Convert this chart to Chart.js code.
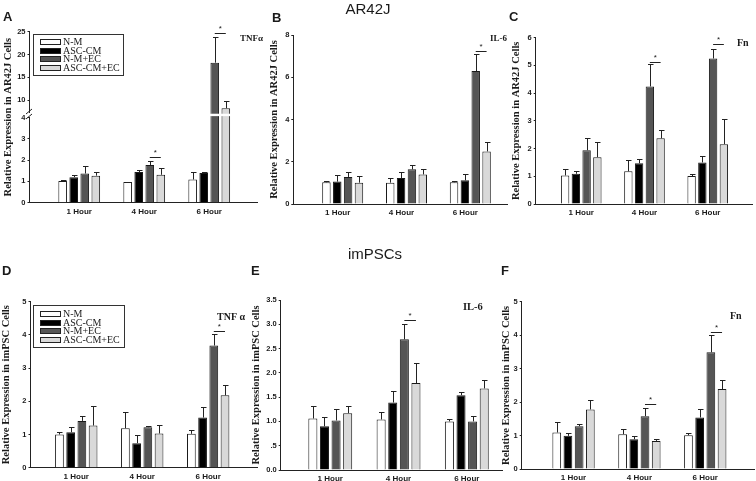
<!DOCTYPE html>
<html><head><meta charset="utf-8">
<script src="https://cdn.jsdelivr.net/npm/chart.js@4.4.0/dist/chart.umd.min.js"></script>
<style>
html,body{margin:0;padding:0;background:#fff;}
#wrap{position:relative;width:756px;height:481px;overflow:hidden;background:#fff;}
#wrap canvas{position:absolute;left:0;top:0;}
</style></head><body>
<div id="wrap">
<canvas id="cA" width="756" height="481"></canvas>
<canvas id="cB" width="756" height="481"></canvas>
<canvas id="cC" width="756" height="481"></canvas>
<canvas id="cD" width="756" height="481"></canvas>
<canvas id="cE" width="756" height="481"></canvas>
<canvas id="cF" width="756" height="481"></canvas>
</div>
<script>
// ---------- data ----------
const timepoints = ['1 Hour', '4 Hour', '6 Hour'];
const seriesNames = ['N-M', 'ASC-CM', 'N-M+EC', 'ASC-CM+EC'];

// Panel A: AR42J TNFα
const aNM = [1.02, 0.97, 1.09],   aNMErr = [0.03, 0.02, 0.33];
const aASC = [1.20, 1.44, 1.40],  aASCErr = [0.08, 0.09, 0.03];
const aNMEC = [1.37, 1.77, 18.2], aNMECErr = [0.33, 0.18, 5.6];
const aASCEC = [1.27, 1.31, 8.2], aASCECErr = [0.18, 0.33, 1.5];
const aTicks = [0, 1, 2, 3, 4, 10, 15, 20, 25];
const aSig = [[1, 2.13], [2, 24.7]];

// Panel B: AR42J IL-6
const bNM = [1.03, 1.01, 1.03],   bNMErr = [0.04, 0.22, 0.04];
const bASC = [1.06, 1.23, 1.12],  bASCErr = [0.30, 0.27, 0.30];
const bNMEC = [1.28, 1.64, 6.29], bNMECErr = [0.22, 0.19, 0.79];
const bASCEC = [1.01, 1.40, 2.49], bASCECErr = [0.30, 0.27, 0.46];
const bTicks = [0, 2, 4, 6, 8];
const bSig = [[2, 7.25]];

// Panel C: AR42J Fn
const cNM = [1.03, 1.18, 1.01],   cNMErr = [0.24, 0.39, 0.06];
const cASC = [1.09, 1.47, 1.50],  cASCErr = [0.11, 0.14, 0.22];
const cNMEC = [1.94, 4.24, 5.25], cNMECErr = [0.43, 0.80, 0.36];
const cASCEC = [1.69, 2.37, 2.16], cASCECErr = [0.56, 0.29, 0.89];
const cTicks = [0, 1, 2, 3, 4, 5, 6];
const cSig = [[1, 5.14], [2, 5.78]];

// Panel D: imPSC TNFα
const dNM = [1.00, 1.19, 1.02],   dNMErr = [0.09, 0.50, 0.13];
const dASC = [1.07, 0.74, 1.51],  dASCErr = [0.15, 0.23, 0.33];
const dNMEC = [1.41, 1.22, 3.68], dNMECErr = [0.16, 0.05, 0.34];
const dASCEC = [1.27, 1.03, 2.18], dASCECErr = [0.58, 0.25, 0.31];
const dTicks = [0, 1, 2, 3, 4, 5];
const dSig = [[2, 4.11]];

// Panel E: imPSC IL-6
const eNM = [1.06, 1.04, 1.00],   eNMErr = [0.25, 0.15, 0.04];
const eASC = [0.90, 1.39, 1.54],  eASCErr = [0.20, 0.24, 0.07];
const eNMEC = [1.02, 2.69, 1.00], eNMECErr = [0.23, 0.31, 0.11];
const eASCEC = [1.17, 1.79, 1.68], eASCECErr = [0.14, 0.41, 0.17];
const eTicks = [0, 0.5, 1, 1.5, 2, 2.5, 3, 3.5];
const eTickLabels = ['0.0', '.5', '1.0', '1.5', '2.0', '2.5', '3.0', '3.5'];
const eSig = [[1, 3.08]];

// Panel F: imPSC Fn
const fNM = [1.09, 1.04, 1.01],   fNMErr = [0.32, 0.15, 0.06];
const fASC = [0.99, 0.89, 1.54],  fASCErr = [0.10, 0.11, 0.25];
const fNMEC = [1.28, 1.58, 3.49], fNMECErr = [0.06, 0.23, 0.51];
const fASCEC = [1.78, 0.84, 2.39], fASCECErr = [0.27, 0.06, 0.27];
const fTicks = [0, 1, 2, 3, 4, 5];
const fSig = [[1, 1.94], [2, 4.08]];

// ---------- styles ----------
const seriesColors = ['#ffffff', '#000000', '#555555', '#d9d9d9'];
const INK = '#1a1a1a';
const SANS = '"Liberation Sans", Arial, sans-serif';
const SERIF = '"Liberation Serif", "Times New Roman", serif';

// broken linear scale for panel A
const LinearScale = Chart.LinearScale || Chart.registry.getScale('linear');
class BrokenLinearScale extends LinearScale {
  _mapBreak(v) {
    const m = this.options.breakMap;
    if (!m) return v;
    return v <= m.at ? v : m.upperBase + (v - m.upperStart) * m.k;
  }
  getPixelForValue(value) {
    if (value === null || value === undefined) return NaN;
    const lo = this._mapBreak(this.min), hi = this._mapBreak(this.max);
    return this.getPixelForDecimal((this._mapBreak(value) - lo) / (hi - lo));
  }
}
BrokenLinearScale.id = 'brokenLinear';
BrokenLinearScale.defaults = LinearScale.defaults;
Chart.register(BrokenLinearScale);

const extrasById = {};

function txt(ctx, s, x, y, font, align, base) {
  ctx.font = font; ctx.fillStyle = INK;
  ctx.textAlign = align || 'left'; ctx.textBaseline = base || 'alphabetic';
  ctx.fillText(s, x, y);
}

const extrasPlugin = {
  id: 'extras',
  afterDatasetsDraw(chart) {
    const ex = extrasById[chart.canvas.id];
    if (!ex) return;
    const ctx = chart.ctx, ys = chart.scales.y, xs = chart.scales.x;
    ctx.save();
    // break gap (panel A)
    if (ex.breakAt !== undefined) {
      const yb = ys.getPixelForValue(ex.breakAt);
      ctx.fillStyle = '#fff';
      ctx.fillRect(xs.left + 2, yb - 1.2, xs.right - xs.left - 2, 2.4);
    }
    // error bars
    ctx.strokeStyle = '#222'; ctx.lineWidth = 1;
    chart.data.datasets.forEach((ds, di) => {
      const meta = chart.getDatasetMeta(di);
      meta.data.forEach((bar, i) => {
        const v = ds.data[i].y, e = ex.errors[di][i];
        const x = Math.round(bar.x) + 0.5;
        const y0 = bar.y, y1 = Math.round(ys.getPixelForValue(v + e)) + 0.5;
        ctx.beginPath();
        ctx.moveTo(x, y0); ctx.lineTo(x, y1);
        ctx.moveTo(x - 2.5, y1); ctx.lineTo(x + 3, y1);
        ctx.stroke();
      });
    });
    // significance
    const m2 = chart.getDatasetMeta(2), m3 = chart.getDatasetMeta(3);
    ex.sig.forEach(([g, lvl]) => {
      const xa = m2.data[g].x, xb = m3.data[g].x;
      const y = Math.round(ys.getPixelForValue(lvl)) + 0.5;
      ctx.strokeStyle = '#222';
      ctx.beginPath(); ctx.moveTo(xa, y); ctx.lineTo(xb, y); ctx.stroke();
      txt(ctx, '*', (xa + xb) / 2, y - 3, '8px ' + SANS, 'center', 'alphabetic');
    });
    ctx.restore();
  },
  afterDraw(chart) {
    const ex = extrasById[chart.canvas.id];
    if (!ex) return;
    const ctx = chart.ctx, ys = chart.scales.y;
    ctx.save();
    if (ex.breakAt !== undefined) {
      const yb = Math.round(ys.getPixelForValue(ex.breakAt));
      const ax = chart.chartArea.left;
      ctx.fillStyle = '#fff';
      ctx.fillRect(ax - 1.5, yb - 2, 3, 4);
      ctx.strokeStyle = '#222'; ctx.lineWidth = 1;
      ctx.beginPath();
      ctx.moveTo(ax - 3.5, yb - 1); ctx.lineTo(ax + 2.5, yb - 6);
      ctx.moveTo(ax - 3.5, yb + 4); ctx.lineTo(ax + 2.5, yb - 1);
      ctx.stroke();
    }
    // legend
    if (ex.legend) {
      const L = ex.legend;
      ctx.strokeStyle = '#333'; ctx.lineWidth = 1;
      ctx.strokeRect(L.x + 0.5, L.y + 0.5, L.w, L.h);
      seriesNames.forEach((n, i) => {
        const cy = Math.round(L.y + L.first + i * L.step);
        ctx.fillStyle = seriesColors[i];
        ctx.fillRect(L.x + 7.5, cy - 2.5, 20, 5);
        ctx.strokeStyle = '#222';
        ctx.strokeRect(L.x + 7.5, cy - 2.5, 20, 5);
        txt(ctx, n, L.x + 30, cy + 0.5, '10px ' + SERIF, 'left', 'middle');
      });
    }
    // labels
    ex.texts.forEach(t => txt(ctx, t.s, t.x, t.y, t.font, t.align || 'left', t.base || 'alphabetic'));
    ctx.restore();
  }
};
Chart.register(extrasPlugin);

function buildPanel(id, vals, errs, tickVals, tickLabels, yTitle, geo, extras, breakMap) {
  extrasById[id] = Object.assign({ errors: errs }, extras);
  const datasets = vals.map((arr, si) => ({
    label: seriesNames[si],
    data: arr.map((v, i) => ({ x: i + 1, y: v })),
    backgroundColor: seriesColors[si],
    borderColor: INK,
    borderWidth: 1,
    categoryPercentage: 0.68,
    barPercentage: 0.78
  }));
  return new Chart(document.getElementById(id), {
    type: 'bar',
    data: { datasets },
    options: {
      responsive: false, animation: false, devicePixelRatio: 1,
      events: [],
      layout: { padding: { left: geo.padLeft, right: 756 - geo.right, top: geo.top, bottom: 0 } },
      plugins: { legend: { display: false }, tooltip: { enabled: false } },
      scales: {
        x: {
          type: 'linear', offset: false, min: geo.xmin, max: geo.xmax,
          afterBuildTicks: s => { s.ticks = timepoints.map((t, i) => ({ value: i + 1 })); },
          afterFit: s => { s.height = 481 - geo.bottom; },
          ticks: {
            callback: (v, i) => timepoints[i], autoSkip: false, maxRotation: 0,
            font: { family: SANS, weight: 'bold', size: 8 }, color: INK, padding: 4,
            labelOffset: geo.labelOffset || 0
          },
          grid: { display: false, drawTicks: false, offset: false },
          border: { display: true, color: '#222', width: 1 }
        },
        y: {
          type: breakMap ? 'brokenLinear' : 'linear',
          breakMap: breakMap || null,
          min: 0, max: tickVals[tickVals.length - 1],
          afterBuildTicks: s => { s.ticks = tickVals.map(v => ({ value: v })); },
          afterFit: s => { s.width = geo.axisX - geo.padLeft; },
          ticks: {
            callback: (v, i) => tickLabels[i], autoSkip: false,
            font: { family: SANS, weight: 'bold', size: 7.5 }, color: INK, padding: 2
          },
          grid: { display: true, drawOnChartArea: false, drawTicks: true, tickLength: 2, color: '#222', lineWidth: 1 },
          border: { display: true, color: '#222', width: 1 },
          title: {
            display: true, text: yTitle, color: INK, padding: 0,
            font: { family: SERIF, weight: 'bold', size: 10.5 }
          }
        }
      }
    }
  });
}

const letterFont = 'bold 13px ' + SANS;
const titleFont = '15px ' + SANS;
const yTitleAR = 'Relative Expression in AR42J Cells';
const yTitleIM = 'Relative Expression in imPSC Cells';

buildPanel('cA', [aNM, aASC, aNMEC, aASCEC], [aNMErr, aASCErr, aNMECErr, aASCECErr],
  aTicks, aTicks.map(String), yTitleAR,
  { padLeft: 2, axisX: 29.5, top: 31.7, bottom: 202.7, right: 257, xmin: 0.235, xmax: 3.735 },
  { sig: aSig, breakAt: 4.12,
    legend: { x: 33, y: 34, w: 90, h: 41, first: 8.3, step: 8.5 },
    texts: [ { s: 'A', x: 3, y: 21, font: letterFont },
             { s: 'TNFα', x: 240, y: 41, font: 'bold 9px ' + SERIF } ] },
  { at: 4.12, upperBase: 4.82, upperStart: 10, k: 0.2138 });

buildPanel('cB', [bNM, bASC, bNMEC, bASCEC], [bNMErr, bASCErr, bNMECErr, bASCECErr],
  bTicks, bTicks.map(String), yTitleAR,
  { padLeft: 268, axisX: 293.3, top: 35, bottom: 204, right: 507, xmin: 0.226, xmax: 3.575, labelOffset: -5 },
  { sig: bSig,
    texts: [ { s: 'B', x: 272, y: 22, font: letterFont },
             { s: 'AR42J', x: 368, y: 14, font: titleFont, align: 'center' },
             { s: 'IL-6', x: 490, y: 41, font: 'bold 9px ' + SERIF } ] });

buildPanel('cC', [cNM, cASC, cNMEC, cASCEC], [cNMErr, cASCErr, cNMECErr, cASCECErr],
  cTicks, cTicks.map(String), yTitleAR,
  { padLeft: 510, axisX: 535.7, top: 37.7, bottom: 204, right: 752, xmin: 0.28, xmax: 3.70 },
  { sig: cSig,
    texts: [ { s: 'C', x: 509, y: 21, font: letterFont },
             { s: 'Fn', x: 737, y: 46, font: 'bold 10px ' + SERIF } ] });

buildPanel('cD', [dNM, dASC, dNMEC, dASCEC], [dNMErr, dASCErr, dNMECErr, dASCECErr],
  dTicks, dTicks.map(String), yTitleIM,
  { padLeft: 0, axisX: 30.5, top: 301.7, bottom: 467.7, right: 257, xmin: 0.306, xmax: 3.74 },
  { sig: dSig,
    legend: { x: 33, y: 305, w: 91, h: 42, first: 9, step: 8.5 },
    texts: [ { s: 'D', x: 2, y: 275, font: letterFont },
             { s: 'TNF α', x: 217, y: 320, font: 'bold 10px ' + SERIF } ] });

buildPanel('cE', [eNM, eASC, eNMEC, eASCEC], [eNMErr, eASCErr, eNMECErr, eASCECErr],
  eTicks, eTickLabels, yTitleIM,
  { padLeft: 250, axisX: 280.7, top: 300, bottom: 470, right: 503, xmin: 0.274, xmax: 3.53 },
  { sig: eSig,
    texts: [ { s: 'E', x: 251, y: 275, font: letterFont },
             { s: 'imPSCs', x: 375, y: 259, font: titleFont, align: 'center' },
             { s: 'IL-6', x: 463, y: 310, font: 'bold 10.5px ' + SERIF } ] });

buildPanel('cF', [fNM, fASC, fNMEC, fASCEC], [fNMErr, fASCErr, fNMECErr, fASCECErr],
  fTicks, fTicks.map(String), yTitleIM,
  { padLeft: 500, axisX: 521.7, top: 301.7, bottom: 469, right: 754, xmin: 0.213, xmax: 3.74 },
  { sig: fSig,
    texts: [ { s: 'F', x: 501, y: 275, font: letterFont },
             { s: 'Fn', x: 730, y: 319, font: 'bold 10px ' + SERIF } ] });
</script>
</body></html>
